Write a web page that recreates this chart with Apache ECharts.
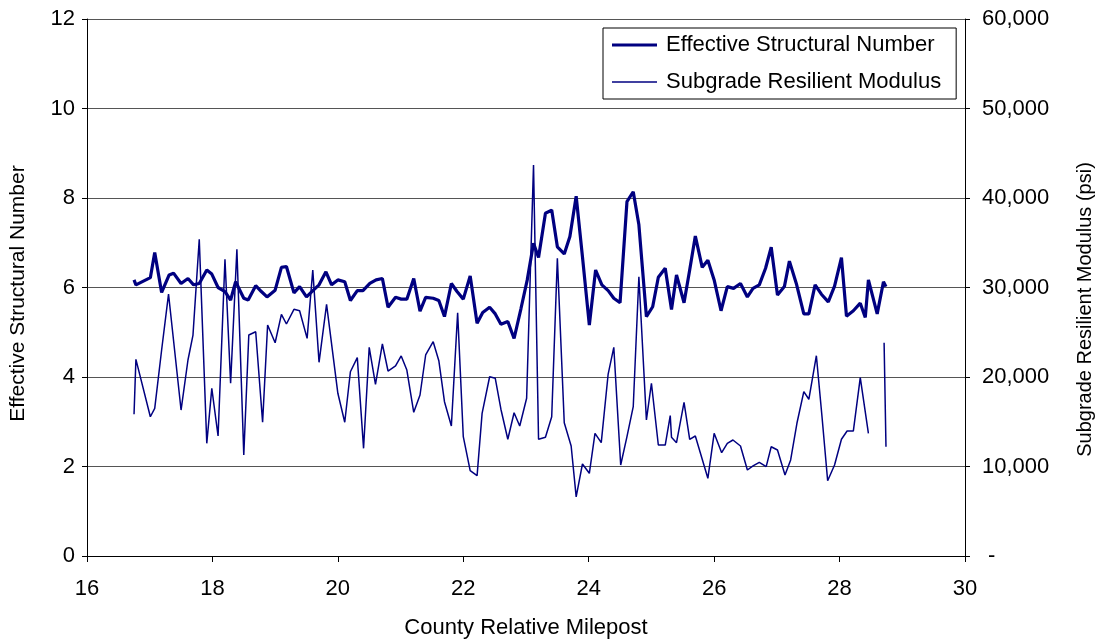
<!DOCTYPE html>
<html>
<head>
<meta charset="utf-8">
<script src="https://cdn.jsdelivr.net/npm/echarts@6/dist/echarts.min.js"></script>
<style>html,body{margin:0;padding:0;background:#fff}#c{width:1105px;height:644px}</style>
</head>
<body>
<div id="c"></div>
<script>
const esnMile = [16.75,16.78,17.01,17.08,17.19,17.31,17.38,17.50,17.61,17.70,17.79,17.91,17.99,18.09,18.20,18.29,18.37,18.50,18.57,18.69,18.78,18.87,19.00,19.10,19.18,19.30,19.39,19.50,19.61,19.70,19.81,19.90,20.00,20.11,20.20,20.31,20.40,20.51,20.61,20.71,20.80,20.92,21.01,21.10,21.21,21.31,21.40,21.52,21.61,21.70,21.81,21.90,22.00,22.11,22.22,22.31,22.42,22.51,22.60,22.71,22.81,22.92,23.02,23.12,23.20,23.31,23.41,23.50,23.61,23.70,23.80,23.90,24.01,24.11,24.21,24.31,24.40,24.50,24.61,24.71,24.80,24.92,25.02,25.11,25.22,25.32,25.40,25.52,25.61,25.70,25.81,25.90,26.00,26.11,26.21,26.31,26.42,26.53,26.62,26.72,26.82,26.91,27.01,27.12,27.20,27.31,27.43,27.51,27.61,27.71,27.82,27.92,28.03,28.11,28.22,28.33,28.41,28.46,28.60,28.70,28.74];
const esnValue = [6.17,6.06,6.22,6.78,5.89,6.28,6.32,6.09,6.20,6.06,6.09,6.39,6.30,6.00,5.91,5.72,6.13,5.76,5.72,6.04,5.91,5.79,5.94,6.45,6.47,5.88,6.02,5.79,5.94,6.06,6.35,6.06,6.17,6.13,5.71,5.93,5.93,6.09,6.17,6.20,5.56,5.78,5.74,5.74,6.20,5.47,5.78,5.76,5.71,5.35,6.09,5.91,5.74,6.26,5.20,5.44,5.56,5.41,5.18,5.24,4.86,5.53,6.17,6.99,6.67,7.66,7.73,6.91,6.75,7.14,8.04,6.69,5.16,6.39,6.06,5.93,5.76,5.66,7.92,8.14,7.40,5.35,5.57,6.23,6.43,5.51,6.28,5.66,6.39,7.15,6.45,6.61,6.17,5.48,6.02,5.98,6.09,5.79,5.98,6.06,6.43,6.90,5.83,6.02,6.59,6.09,5.41,5.41,6.06,5.85,5.68,6.03,6.67,5.36,5.48,5.65,5.33,6.17,5.41,6.13,6.02];

const mrMile = [16.75,16.78,17.01,17.08,17.19,17.30,17.50,17.61,17.69,17.79,17.91,17.99,18.09,18.20,18.29,18.39,18.50,18.58,18.69,18.80,18.88,19.00,19.10,19.18,19.30,19.39,19.51,19.60,19.70,19.82,20.00,20.11,20.20,20.31,20.41,20.50,20.60,20.71,20.80,20.92,21.01,21.10,21.21,21.31,21.40,21.52,21.61,21.70,21.81,21.91,22.00,22.11,22.22,22.30,22.42,22.51,22.60,22.71,22.81,22.90,23.01,23.12,23.20,23.31,23.41,23.50,23.61,23.72,23.80,23.90,24.01,24.10,24.20,24.31,24.40,24.51,24.61,24.71,24.80,24.92,25.00,25.11,25.22,25.30,25.32,25.40,25.52,25.61,25.70,25.90,26.00,26.12,26.21,26.30,26.42,26.53,26.62,26.72,26.83,26.91,27.01,27.13,27.22,27.32,27.43,27.51,27.63,27.72,27.81,27.92,28.03,28.12,28.22,28.33,28.46,28.60,28.71,28.74];
const mrValue = [15830,21970,15560,16500,23020,29270,16310,21900,24690,35380,12590,18730,13410,33150,19300,34270,11280,24690,25060,14940,25810,23830,27000,25920,27560,27410,24320,31960,21640,28120,18180,14940,20590,22160,12030,23320,19180,23690,20670,21230,22350,20780,16050,17990,22460,23940,21820,17240,14520,27180,13330,9530,8970,15940,20030,19850,16400,13040,16010,14520,17620,43690,13040,13260,15560,33260,14890,12290,6600,10280,9240,13710,12660,20330,23320,10170,13330,16680,31210,15200,19300,12400,12400,15680,13260,12660,17170,13040,13410,8680,13710,11540,12590,12960,12290,9610,10060,10470,9980,12210,11840,9050,10730,14830,18360,17510,22380,15560,8410,10170,13040,13970,13970,19920,13710,null,23830,12210];

const xTicks = {min:16, max:30, step:2};
const leftTicks = {min:0, max:12, step:2};
const rightTicks = {min:0, max:60000, step:10000};

const navy = '#000080';
const font = 'Liberation Sans, Arial, sans-serif';
const chart = echarts.init(document.getElementById('c'), null, {renderer:'canvas'});
chart.setOption({
  animation:false,
  backgroundColor:'#fff',
  textStyle:{fontFamily:font},
  grid:{left:85, right:140, top:19, bottom:88, containLabel:false},
  legend:{
    orient:'vertical', left:603, top:28,
    backgroundColor:'#fff', borderColor:'#000', borderWidth:1,
    padding:[6,15,6,9], itemGap:15, itemWidth:45, itemHeight:14,
    textStyle:{fontFamily:font, fontSize:22, color:'#000', padding:[0,0,0,4]},
    data:[
      {name:'Effective Structural Number', icon:'path://M0,0H45V3.2H0Z'},
      {name:'Subgrade Resilient Modulus', icon:'path://M0,0H45V1.5H0Z'}
    ]
  },
  xAxis:{
    type:'value', min:xTicks.min, max:xTicks.max, interval:xTicks.step,
    name:'County Relative Milepost', nameLocation:'middle', nameGap:61,
    nameTextStyle:{fontFamily:font, fontSize:22, color:'#000'},
    axisLine:{lineStyle:{color:'#000', width:1}},
    axisTick:{show:true, inside:false, length:6, lineStyle:{color:'#000'}},
    axisLabel:{fontFamily:font, fontSize:22, color:'#000', margin:22},
    splitLine:{show:false}
  },
  yAxis:[{
    type:'value', min:leftTicks.min, max:leftTicks.max, interval:leftTicks.step,
    name:'Effective Structural Number', nameLocation:'middle', nameGap:58, nameRotate:90,
    nameTextStyle:{fontFamily:font, fontSize:21, color:'#000', padding:[0,12,0,0]},
    axisLine:{show:true, lineStyle:{color:'#000', width:1}},
    axisTick:{show:true, length:5, lineStyle:{color:'#000'}},
    axisLabel:{fontFamily:font, fontSize:22, color:'#000', margin:12},
    splitLine:{show:true, lineStyle:{color:'#555', width:1}}
  },{
    type:'value', min:rightTicks.min, max:rightTicks.max, interval:rightTicks.step, position:'right',
    name:'Subgrade Resilient Modulus (psi)', nameLocation:'middle', nameGap:110, nameRotate:90,
    nameTextStyle:{fontFamily:font, fontSize:20, color:'#000', padding:[0,44,0,0]},
    axisLine:{show:true, lineStyle:{color:'#000', width:1}},
    axisTick:{show:true, length:5, lineStyle:{color:'#000'}},
    axisLabel:{fontFamily:font, fontSize:22, color:'#000', margin:17,
      formatter:v => v === 0 ? ' -' : v.toLocaleString('en-US')},
    splitLine:{show:false}
  }],
  series:[{
    name:'Effective Structural Number', type:'line', yAxisIndex:0,
    data: esnMile.map((m,i)=>[m, esnValue[i]]),
    symbol:'none', lineStyle:{color:navy, width:3.2}, itemStyle:{color:navy}, z:3
  },{
    name:'Subgrade Resilient Modulus', type:'line', yAxisIndex:1,
    data: mrMile.map((m,i)=>[m, mrValue[i]]), connectNulls:false,
    symbol:'none', lineStyle:{color:navy, width:1.5}, itemStyle:{color:navy}, z:2
  }]
});
</script>
</body>
</html>
